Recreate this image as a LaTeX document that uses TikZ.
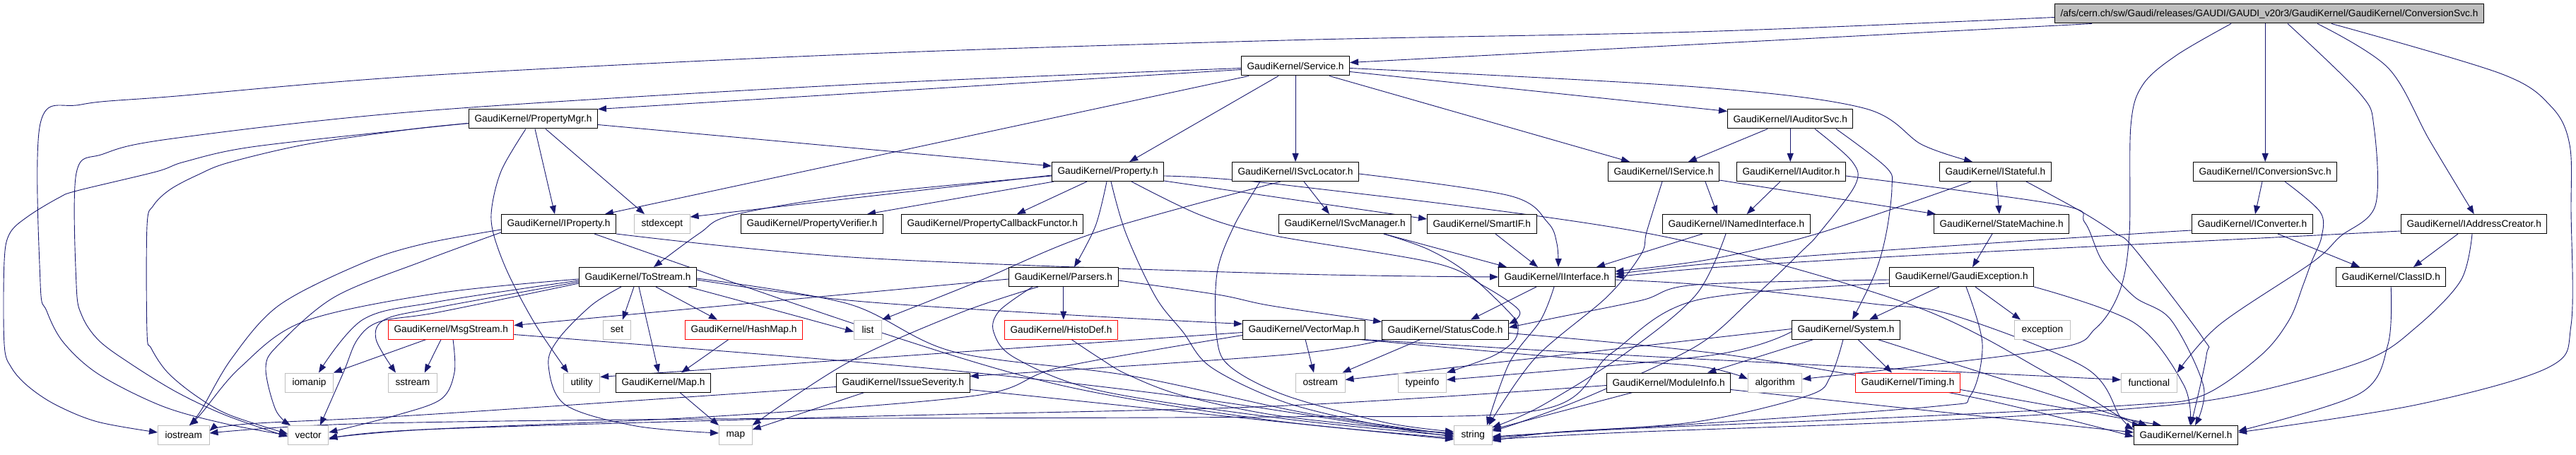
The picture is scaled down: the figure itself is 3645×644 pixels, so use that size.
\documentclass[tikz,border=0pt]{standalone}
\usepackage{fontspec}
\setmainfont{Liberation Sans}
\usetikzlibrary{arrows.meta}
\definecolor{navy}{RGB}{25,25,112}
\definecolor{lgray}{RGB}{191,191,191}
\pgfdeclarelayer{bg}
\pgfsetlayers{bg,main}
\begin{document}
\begin{tikzpicture}[x=1pt,y=-1pt,
  box/.style={rectangle, fill=white, line width=1pt, inner xsep=8pt, inner ysep=0pt, minimum height=27pt, font=\fontsize{13.7}{16}\selectfont, anchor=west},
  nb/.style={box, draw=black},
  ng/.style={box, draw=lgray, inner xsep=10pt, minimum width=39pt},
  nr/.style={box, draw=red},
  nroot/.style={box, draw=black, fill=lgray},
  lnk/.style={draw=navy, line width=0.9pt, -{Triangle[length=12pt,width=9pt]}},
  sm/.style={smooth, tension=0.55}
]
\useasboundingbox (0,0) rectangle (3645,644);
% ---------------- nodes
\node[nroot] (root) at (2907,19.5) {/afs/cern.ch/sw/Gaudi/releases/GAUDI/GAUDI\_v20r3/GaudiKernel/GaudiKernel/ConversionSvc.h};
\node[nb] (Service) at (1756,93.5) {GaudiKernel/Service.h};
\node[nb] (PropertyMgr) at (663,168.5) {GaudiKernel/PropertyMgr.h};
\node[nb] (IAuditorSvc) at (2444,168.5) {GaudiKernel/IAuditorSvc.h};
\node[nb] (Property) at (1488,243) {GaudiKernel/Property.h};
\node[nb] (ISvcLocator) at (1743,243) {GaudiKernel/ISvcLocator.h};
\node[nb] (IService) at (2275,243) {GaudiKernel/IService.h};
\node[nb] (IAuditor) at (2457,243) {GaudiKernel/IAuditor.h};
\node[nb] (IStateful) at (2744,243) {GaudiKernel/IStateful.h};
\node[nb] (IConversionSvc) at (3103,243) {GaudiKernel/IConversionSvc.h};
\node[nb] (IProperty) at (709,317) {GaudiKernel/IProperty.h};
\node[ng] (stdexcept) at (897,317) {stdexcept};
\node[nb] (PropertyVerifier) at (1048,317) {GaudiKernel/PropertyVerifier.h};
\node[nb] (PCF) at (1275,317) {GaudiKernel/PropertyCallbackFunctor.h};
\node[nb] (ISvcManager) at (1809,317) {GaudiKernel/ISvcManager.h};
\node[nb] (SmartIF) at (2019,317) {GaudiKernel/SmartIF.h};
\node[nb] (INamedInterface) at (2352,317) {GaudiKernel/INamedInterface.h};
\node[nb] (StateMachine) at (2736,317) {GaudiKernel/StateMachine.h};
\node[nb] (IConverter) at (3101,317) {GaudiKernel/IConverter.h};
\node[nb] (IAddressCreator) at (3397,317) {GaudiKernel/IAddressCreator.h};
\node[nb] (ToStream) at (819,392) {GaudiKernel/ToStream.h};
\node[nb] (Parsers) at (1427,392) {GaudiKernel/Parsers.h};
\node[nb] (IInterface) at (2120,392) {GaudiKernel/IInterface.h};
\node[nb] (GaudiException) at (2673,392) {GaudiKernel/GaudiException.h};
\node[nb] (ClassID) at (3305,392) {GaudiKernel/ClassID.h};
\node[nr] (MsgStream) at (549,466.5) {GaudiKernel/MsgStream.h};
\node[ng] (set) at (853,466.5) {set};
\node[nr] (HashMap) at (969,466.5) {GaudiKernel/HashMap.h};
\node[ng] (list) at (1208,466.5) {list};
\node[nr] (HistoDef) at (1421,466.5) {GaudiKernel/HistoDef.h};
\node[nb] (VectorMap) at (1758,466.5) {GaudiKernel/VectorMap.h};
\node[nb] (StatusCode) at (1955,466.5) {GaudiKernel/StatusCode.h};
\node[nb] (System) at (2535,466.5) {GaudiKernel/System.h};
\node[ng] (exception) at (2850,466.5) {exception};
\node[ng] (iomanip) at (403,541.5) {iomanip};
\node[ng] (sstream) at (549,541.5) {sstream};
\node[ng] (utility) at (797,541.5) {utility};
\node[nb] (Map) at (871,541.5) {GaudiKernel/Map.h};
\node[nb] (IssueSeverity) at (1183,541.5) {GaudiKernel/IssueSeverity.h};
\node[ng] (ostream) at (1833,541.5) {ostream};
\node[ng] (typeinfo) at (1978,541.5) {typeinfo};
\node[nb] (ModuleInfo) at (2273,541.5) {GaudiKernel/ModuleInfo.h};
\node[ng] (algorithm) at (2473,541.5) {algorithm};
\node[nr] (Timing) at (2625,541.5) {GaudiKernel/Timing.h};
\node[ng] (functional) at (3001,541.5) {functional};
\node[ng] (iostream) at (223,616) {iostream};
\node[ng] (vector) at (407,616) {vector};
\node[ng] (map) at (1017,616) {map};
\node[ng] (string) at (2057,616) {string};
\node[nb] (Kernel) at (3019,616) {GaudiKernel/Kernel.h};
% ---------------- edges
\begin{pgfonlayer}{bg}
\fill[white] (0,0) rectangle (3645,644);
% root
\draw[lnk] plot[sm] coordinates {([yshift=-5pt]root.west) (2400,45) (1820,57) (1200,77) (600,107) (250,136) (115,148) (57,175) (57,400) (66,440) (90,485) (140,530) (230,575) (320,600) (vector.west)};
\draw[lnk] ([xshift=53pt]root.south west) -- ([yshift=5pt]Service.east);
\draw[lnk] (IConversionSvc.north |- root.south) -- (IConversionSvc.north);
\draw[lnk] plot[sm] coordinates {([xshift=250pt]root.south west) (3080,78) (3032,120) (3015,178) (3013,330) (3000,410) (2965,465) (2900,495) ([yshift=5pt]algorithm.east)};
\draw[lnk] plot[sm] coordinates {([xshift=330pt]root.south west) (3339,132) (3359,179) (3361,291) (3311,335) (3271,372) (3140,460) (functional.north east)};
\draw[lnk] plot[sm] coordinates {([xshift=372pt]root.south west) (3379,96) (3438,199) (IAddressCreator.north)};
\draw[lnk] plot[sm] coordinates {([xshift=392pt]root.south west) (3538,104) (3610,151) (3636,205) (3638,300) (3638,460) (3606,520) (3419,573) ([yshift=4pt]Kernel.east)};
% Service
\draw[lnk] ([yshift=-5pt]Service.west) -- (PropertyMgr.north east);
\draw[lnk] plot[sm] coordinates {([yshift=-3pt]Service.west) (1200,120) (600,157) (245,196) (146,218) (108,245) (108,403) (116,447) (140,482) (185,515) (250,555) (320,588) ([yshift=-2pt]vector.west)};
\draw[lnk] ([xshift=11pt]Service.south west) -- ([xshift=-16pt]IProperty.north east);
\draw[lnk] ([xshift=53pt]Service.south west) -- ([xshift=-49pt]Property.north east);
\draw[lnk] (Service.south) -- (Service.south |- ISvcLocator.north);
\draw[lnk] ([xshift=-29pt]Service.south east) -- ([xshift=31pt]IService.north west);
\draw[lnk] ([yshift=-8pt]Service.east) -- ([yshift=11pt]IAuditorSvc.west);
\draw[lnk] plot[sm] coordinates {([yshift=-3pt]Service.east) (2400,123) (2637,153) (2720,205) ([xshift=47pt]IStateful.north west)};
% PropertyMgr
\draw[lnk] plot[sm] coordinates {([yshift=-6pt]PropertyMgr.west) (581,183) (356,208) (261,229) (221,243) (109,270) (83,280) (40,306) (14,330) (6,370) (6,487) (16,520) (40,547) (79,573) (138,597) ([yshift=4pt]iostream.west)};
\draw[lnk] plot[sm] coordinates {([yshift=-6pt]PropertyMgr.west) (581,183) (435,204) (324,230) (281,247) (241,268) (217,291) (208,320) (208,470) (214,493) (237,527) (277,560) (324,587) ([yshift=2pt]vector.west)};
\draw[lnk] plot[sm] coordinates {([xshift=81pt]PropertyMgr.south west) (710,240) (696,293) (698,330) (719,387) (758,460) ([xshift=7pt]utility.north west)};
\draw[lnk] ([xshift=94pt]PropertyMgr.south west) -- ([xshift=76pt]IProperty.north west);
\draw[lnk] ([xshift=109pt]PropertyMgr.south west) -- ([xshift=15pt]stdexcept.north west);
\draw[lnk] ([yshift=-8pt]PropertyMgr.east) -- ([yshift=8pt]Property.west);
% IAuditorSvc
\draw[lnk] ([xshift=57pt]IAuditorSvc.south west) -- ([xshift=-44pt]IService.north east);
\draw[lnk] (IAuditorSvc.south) -- (IAuditorSvc.south |- IAuditor.north);
\draw[lnk] plot[sm] coordinates {([xshift=154pt]IAuditorSvc.south west) (2669,237) (2677,265) (2669,330) (2653,387) ([xshift=86pt]System.north west)};
\draw[lnk] plot[sm] coordinates {([xshift=124pt]IAuditorSvc.south west) (2621,229) (2625,262) (2574,330) (2550,355) (2479,423) (2400,490) (2250,560) (2150,598) ([yshift=6pt]string.east)};
% Property
\draw[lnk] ([yshift=-5pt]Property.west) -- ([yshift=10pt]stdexcept.east);
\draw[lnk] plot[sm] coordinates {([yshift=-6pt]Property.west) (1200,277) (1035,305) (990,330) ([xshift=-61pt]ToStream.north east)};
\draw[lnk] ([xshift=3pt]Property.south west) -- ([xshift=-23pt]PropertyVerifier.north east);
\draw[lnk] ([xshift=50pt]Property.south west) -- ([xshift=164pt]PCF.north west);
\draw[lnk] plot[sm] coordinates {([xshift=78pt]Property.south west) (1550,320) ([xshift=93pt]Parsers.north west)};
\draw[lnk] plot[sm] coordinates {([xshift=84pt]Property.south west) (1593,330) (1635,420) (1674,470) (1714,520) (1820,570) (1960,603) ([yshift=3pt]string.west)};
\draw[lnk] plot[sm] coordinates {([xshift=113pt]Property.south west) (1700,305) (1800,333) (2029,372) (2100,405) (2150,440) ([yshift=8pt]StatusCode.east)};
\draw[lnk] ([yshift=-13pt]Property.east) -- ([yshift=7pt]SmartIF.west);
\draw[lnk] plot[sm] coordinates {([yshift=-6pt]Property.east) (1820,262) (2330,330) (2700,430) (2900,530) (3000,590) ([xshift=10pt]Kernel.north west)};
% ISvcLocator
\draw[lnk] ([xshift=102pt]ISvcLocator.south west) -- ([xshift=72pt]ISvcManager.north west);
\draw[lnk] plot[sm] coordinates {([xshift=69pt]ISvcLocator.south west) (1548,330) (1380,400) (list.north east)};
\draw[lnk] plot[sm] coordinates {([yshift=-3pt]ISvcLocator.east) (2136,277) (2190,315) (2203,345) ([xshift=85pt]IInterface.north west)};
\draw[lnk] plot[sm] coordinates {([xshift=40pt]ISvcLocator.south west) (1746,320) (1722,387) (1722,480) (1742,520) (1820,560) (1960,598) ([yshift=5pt]string.west)};
% IService
\draw[lnk] ([xshift=-20pt]IService.south east) -- ([xshift=78pt]INamedInterface.north west);
\draw[lnk] ([yshift=-12pt]IService.east) -- ([xshift=3pt]StateMachine.north west);
\draw[lnk] plot[sm] coordinates {([xshift=77pt]IService.south west) (2330,328) (2322,360) (2274,420) (2172,507) ([xshift=-5pt]string.north east)};
% IAuditor
\draw[lnk] ([xshift=62pt]IAuditor.south west) -- ([xshift=-90pt]INamedInterface.north east);
\draw[lnk] plot[sm] coordinates {([yshift=-6pt]IAuditor.east) (2914,290) (2950,315) (2975,370) (3020,420) (3072,453) (3118,547) ([xshift=87pt]Kernel.north west)};
% IStateful
\draw[lnk] ([xshift=81pt]IStateful.south west) -- ([xshift=93pt]StateMachine.north west);
\draw[lnk] plot[sm] coordinates {([xshift=45pt]IStateful.south west) (2574,330) (2420,367) ([yshift=8pt]IInterface.east)};
\draw[lnk] plot[sm] coordinates {([xshift=123pt]IStateful.south west) (2946,300) (2993,330) (3020,352) (3116,477) (3122,503) ([xshift=81pt]Kernel.north west)};
% IConversionSvc
\draw[lnk] ([xshift=98pt]IConversionSvc.south west) -- ([xshift=90pt]IConverter.north west);
\draw[lnk] plot[sm] coordinates {([xshift=130pt]IConversionSvc.south west) (3283,300) (3285,335) (3271,370) (3259,403) (3239,453) (3199,503) (3116,560) (3020,573) (2700,590) (2300,607) ([yshift=-2pt]string.east)};
% IProperty
\draw[lnk] plot[sm] coordinates {([yshift=-8pt]IProperty.west) (600,345) (514,372) (395,432) (328,507) (285,580) ([xshift=45pt]iostream.north west)};
\draw[lnk] plot[sm] coordinates {([yshift=-12pt]IProperty.west) (600,369) (474,420) (395,487) (376,520) (390,580) ([xshift=4pt]vector.north west)};
\draw[lnk] plot[sm] coordinates {(IProperty.south east) (1220,365) (1800,387) (IInterface.west)};
\draw[lnk] plot[sm] coordinates {([xshift=132pt]IProperty.south west) (1220,462) (1500,545) (1800,595) ([yshift=-4pt]string.west)};
% ISvcManager, SmartIF, INamedInterface, StateMachine
\draw[lnk] ([xshift=149pt]ISvcManager.south west) -- ([xshift=12pt]IInterface.north west);
\draw[lnk] plot[sm] coordinates {([xshift=149pt]ISvcManager.south west) (2021,353) (2077,387) (2140,447) (2148,467) (2140,485) (2110,505) (typeinfo.north east)};
\draw[lnk] ([xshift=97pt]SmartIF.south west) -- ([xshift=56pt]IInterface.north west);
\draw[lnk] ([xshift=57pt]INamedInterface.south west) -- ([xshift=139pt]IInterface.north west);
\draw[lnk] plot[sm] coordinates {([xshift=90pt]INamedInterface.south west) (2400,417) (2300,500) (2180,575) ([yshift=-3pt]string.north east)};
\draw[lnk] ([xshift=83pt]StateMachine.south west) -- ([xshift=118pt]GaudiException.north west);
% IConverter, IAddressCreator
\draw[lnk] plot[sm] coordinates {([yshift=-9pt]IConverter.west) (3020,331) (2700,352) (2420,373) ([yshift=4pt]IInterface.east)};
\draw[lnk] ([xshift=122pt]IConverter.south west) -- ([xshift=34pt]ClassID.north west);
\draw[lnk] ([xshift=81pt]IAddressCreator.south west) -- ([xshift=110pt]ClassID.north west);
\draw[lnk] plot[sm] coordinates {([yshift=-10pt]IAddressCreator.west) (3020,346) (2700,362) (2420,379) (IInterface.east)};
\draw[lnk] plot[sm] coordinates {([xshift=101pt]IAddressCreator.south west) (3482,397) (3419,463) (3347,510) (3179,557) (3020,578) (2700,597) (2300,612) ([yshift=-6pt]string.east)};
% ToStream
\draw[lnk] plot[sm] coordinates {([yshift=-5pt]ToStream.west) (620,427) (514,452) ([xshift=48pt]iomanip.north west)};
\draw[lnk] plot[sm] coordinates {([yshift=-7pt]ToStream.west) (620,435) (545,452) (532,480) ([xshift=11pt]sstream.north west)};
\draw[lnk] plot[sm] coordinates {([yshift=-9pt]ToStream.west) (620,442) (538,455) (506,480) (486,527) ([xshift=46pt]vector.north west)};
\draw[lnk] plot[sm] coordinates {([yshift=-3pt]ToStream.west) (620,415) (430,455) (340,520) (285,585) ([xshift=45pt]iostream.north west)};
\draw[lnk] ([xshift=78pt]ToStream.south west) -- ([xshift=28pt]set.north west);
\draw[lnk] ([xshift=85pt]ToStream.south west) -- ([xshift=61pt]Map.north west);
\draw[lnk] ([xshift=109pt]ToStream.south west) -- ([xshift=46pt]HashMap.north west);
\draw[lnk] plot[sm] coordinates {([xshift=60pt]ToStream.south west) (837,432) (790,480) (776,517) (800,573) (900,603) ([yshift=3pt]map.west)};
\draw[lnk] plot[sm] coordinates {([xshift=-12pt]ToStream.south east) (1100,440) ([yshift=-3pt]list.west)};
\draw[lnk] plot[sm] coordinates {([yshift=-4pt]ToStream.east) (1200,425) (1500,445) ([yshift=8pt]VectorMap.west)};
\draw[lnk] plot[sm] coordinates {([yshift=-2pt]ToStream.east) (1200,430) (1350,498) (1600,532) (1850,585) ([yshift=1pt]string.west)};
% Parsers
\draw[lnk] (Parsers.south) -- (Parsers.south |- HistoDef.north);
\draw[lnk] plot[sm] coordinates {([yshift=-5pt]Parsers.east) (1723,417) (1800,433) ([yshift=11pt]StatusCode.west)};
\draw[lnk] plot[sm] coordinates {([xshift=34pt]Parsers.south west) (1414,440) (1406,470) (1437,507) (1556,553) (1820,593) ([yshift=-1pt]string.west)};
\draw[lnk] plot[sm] coordinates {([xshift=42pt]Parsers.south west) (1358,443) (1200,513) (map.north east)};
\draw[lnk] ([yshift=-3pt]Parsers.west) -- ([yshift=6pt]MsgStream.east);
% IInterface
\draw[lnk] ([xshift=54pt]IInterface.south west) -- ([xshift=126pt]StatusCode.north west);
\draw[lnk] plot[sm] coordinates {([xshift=79pt]IInterface.south west) (2180,453) (2136,513) ([xshift=47pt]string.north west)};
\draw[lnk] plot[sm] coordinates {([yshift=-4pt]IInterface.east) (2420,404) (2650,430) (2760,445) (2950,520) (3000,590) ([yshift=8pt]Kernel.west)};
% GaudiException
\draw[lnk] ([xshift=71pt]GaudiException.south west) -- ([xshift=110pt]System.north west);
\draw[lnk] ([xshift=122pt]GaudiException.south west) -- ([xshift=9pt]exception.north west);
\draw[lnk] plot[sm] coordinates {([xshift=109pt]GaudiException.south west) (2805,487) (2788,560) (2740,575) (2400,600) (2200,612) ([yshift=-8pt]string.east)};
\draw[lnk] plot[sm] coordinates {(GaudiException.south east) (3020,457) (3090,545) ([xshift=80pt]Kernel.north west)};
\draw[lnk] plot[sm] coordinates {([yshift=-4pt]GaudiException.west) (2400,403) (2323,425) (2200,450) ([yshift=3pt]StatusCode.east)};
\draw[lnk] plot[sm] coordinates {([yshift=-9pt]GaudiException.west) (2400,425) (2280,500) (2180,580) (1800,590) (1000,593) (500,600) ([yshift=3pt]iostream.east)};
% ClassID
\draw[lnk] plot[sm] coordinates {(ClassID.south) (3379,487) (3339,557) ([yshift=6pt]Kernel.east)};
% MsgStream
\draw[lnk] ([xshift=54pt]MsgStream.south west) -- (iomanip.north east);
\draw[lnk] ([xshift=75pt]MsgStream.south west) -- ([xshift=-18pt]sstream.north east);
\draw[lnk] plot[sm] coordinates {([xshift=92pt]MsgStream.south west) (643,527) (624,565) (560,588) ([yshift=4pt]vector.east)};
\draw[lnk] plot[sm] coordinates {([yshift=-7pt]MsgStream.east) (1220,513) (1450,535) (1700,565) (1950,603) ([yshift=-2pt]string.west)};
% HashMap, HistoDef
\draw[lnk] ([xshift=62pt]HashMap.south west) -- ([xshift=93pt]Map.north west);
\draw[lnk] plot[sm] coordinates {([xshift=95pt]HistoDef.south west) (1556,507) (1595,530) (1674,560) (1820,590) ([yshift=2pt]string.west)};
% VectorMap
\draw[lnk] ([xshift=89pt]VectorMap.south west) -- ([xshift=26pt]ostream.north west);
\draw[lnk] ([yshift=-4pt]VectorMap.west) -- ([yshift=8pt]utility.east);
\draw[lnk] plot[sm] coordinates {([xshift=-8pt]VectorMap.south east) (2200,505) (2400,518) ([yshift=5pt]algorithm.west)};
\draw[lnk] plot[sm] coordinates {([xshift=-3pt]VectorMap.south east) (2200,497) (2400,508) (2700,523) ([yshift=4pt]functional.west)};
\draw[lnk] plot[sm] coordinates {([yshift=-8pt]VectorMap.west) (1500,520) (1380,560) (1000,590) (600,608) ([yshift=-4pt]vector.east)};
% StatusCode
\draw[lnk] ([xshift=55pt]StatusCode.south west) -- ([xshift=-4pt]ostream.north east);
\draw[lnk] plot[sm] coordinates {([xshift=5pt]StatusCode.south west) (1820,502) ([yshift=9pt]IssueSeverity.east)};
\draw[lnk] plot[sm] coordinates {([yshift=-5pt]StatusCode.east) (2450,503) (2790,562) ([yshift=-2pt]Kernel.west)};
% System
\draw[lnk] ([xshift=31pt]System.south west) -- ([xshift=-33pt]ModuleInfo.north east);
\draw[lnk] plot[sm] coordinates {([xshift=73pt]System.south west) (2590,533) (2558,560) (2400,597) (2200,612) ([yshift=-4pt]string.east)};
\draw[lnk] ([xshift=94pt]System.south west) -- ([xshift=52pt]Timing.north west);
\draw[lnk] ([xshift=122pt]System.south west) -- ([xshift=19pt]Kernel.north west);
\draw[lnk] plot[sm] coordinates {([yshift=-3pt]System.west) (2420,503) ([yshift=4pt]typeinfo.east)};
\draw[lnk] ([yshift=1pt]System.west) -- ([yshift=4pt]ostream.east);
% Map, IssueSeverity, ModuleInfo, Timing
\draw[lnk] ([xshift=91pt]Map.south west) -- (map.north west);
\draw[lnk] ([xshift=40pt]IssueSeverity.south west) -- ([yshift=8pt]map.east);
\draw[lnk] plot[sm] coordinates {([yshift=-10pt]IssueSeverity.east) (1820,598) ([yshift=-6pt]string.west)};
\draw[lnk] plot[sm] coordinates {([yshift=-6pt]IssueSeverity.west) (600,587) (350,600) ([yshift=6pt]iostream.east)};
\draw[lnk] ([xshift=37pt]ModuleInfo.south west) -- ([yshift=8pt]string.east);
\draw[lnk] plot[sm] coordinates {([yshift=-4pt]ModuleInfo.west) (1800,575) (1200,590) (600,608) ([yshift=-6pt]vector.east)};
\draw[lnk] ([yshift=-10pt]ModuleInfo.east) -- ([yshift=4pt]Kernel.west);
\draw[lnk] ([yshift=-10pt]Timing.east) -- ([xshift=39pt]Kernel.north west);
\end{pgfonlayer}
\end{tikzpicture}
\end{document}
